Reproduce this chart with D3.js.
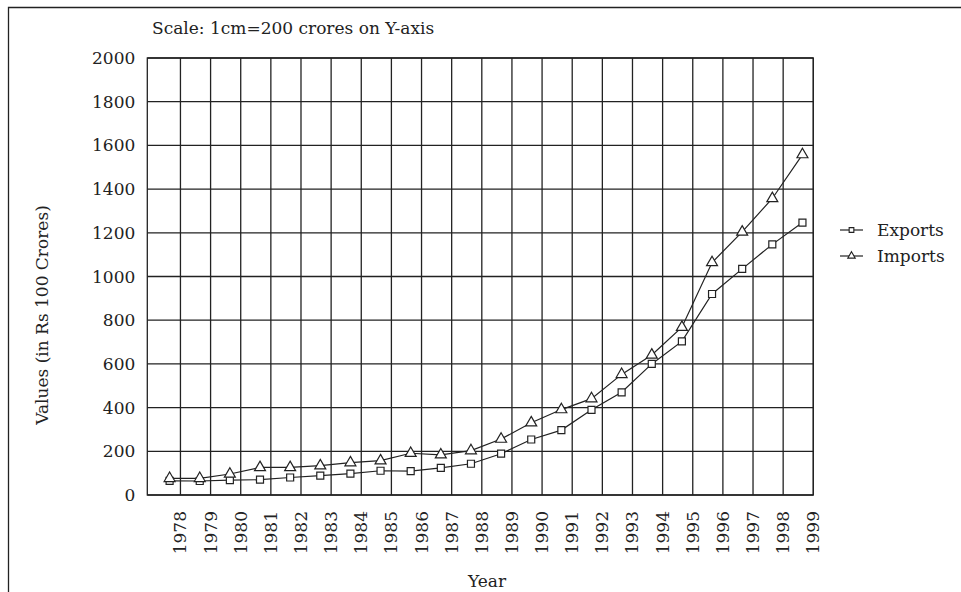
<!DOCTYPE html>
<html>
<head>
<meta charset="utf-8">
<script src="https://cdn.jsdelivr.net/npm/d3@7"></script>
<style>
  body { margin: 0; background: #fff; }
  text { font-family: 'DejaVu Serif', serif; fill: #222; }
</style>
</head>
<body>
<svg id="chart" width="961" height="592"></svg>
<script>
const YEARS = [1978, 1979, 1980, 1981, 1982, 1983, 1984, 1985, 1986, 1987, 1988,
  1989, 1990, 1991, 1992, 1993, 1994, 1995, 1996, 1997, 1998, 1999];
const EXPORTS = [65, 64, 68, 70, 80, 89, 98, 111, 109, 124, 143,
  189, 254, 297, 390, 470, 600, 703, 920, 1035, 1147, 1247];
const IMPORTS = [76, 76, 96, 126, 126, 134, 148, 157, 191, 184, 203,
  256, 331, 391, 441, 552, 641, 768, 1064, 1204, 1357, 1558];
const Y_TICKS = [0, 200, 400, 600, 800, 1000, 1200, 1400, 1600, 1800, 2000];
const SERIES = [
  { name: "Exports", values: EXPORTS, shape: d3.symbolSquare, size: 49, legendSize: 22 },
  { name: "Imports", values: IMPORTS, shape: d3.symbolTriangle, size: 52, legendSize: 24 }
];

const SVG = d3.select("#chart");
const INK = "#222";

// points sit a bit left of each year's grid line
const POINT_SHIFT = -0.36;

const SCALE_X = d3.scaleLinear()
  .domain([1976.9, 1999])
  .range([147.3, 813.3]);

const SCALE_Y = d3.scaleLinear()
  .domain([0, 2000])
  .range([495, 58]);

const LEFT = SCALE_X(1976.9);
const RIGHT = SCALE_X(1999);
const TOP = SCALE_Y(2000);
const BOTTOM = SCALE_Y(0);

// outer border
SVG.append("path")
  .attr("d", "M8.5,600 V7.5 H980")
  .attr("fill", "none")
  .attr("stroke", INK)
  .attr("stroke-width", 1.3);

// grid
SVG.selectAll("line.hgrid")
  .data(Y_TICKS)
  .enter()
  .append("line")
  .attr("class", "hgrid")
  .attr("x1", LEFT)
  .attr("x2", RIGHT)
  .attr("y1", d => SCALE_Y(d))
  .attr("y2", d => SCALE_Y(d))
  .attr("stroke", INK)
  .attr("stroke-width", 1.3);

SVG.selectAll("line.vgrid")
  .data(YEARS)
  .enter()
  .append("line")
  .attr("class", "vgrid")
  .attr("x1", d => SCALE_X(d))
  .attr("x2", d => SCALE_X(d))
  .attr("y1", TOP)
  .attr("y2", BOTTOM)
  .attr("stroke", INK)
  .attr("stroke-width", 1.3);

SVG.append("rect")
  .attr("x", LEFT)
  .attr("y", TOP)
  .attr("width", RIGHT - LEFT)
  .attr("height", BOTTOM - TOP)
  .attr("fill", "none")
  .attr("stroke", INK)
  .attr("stroke-width", 1.3);

// series
const LINE = d3.line()
  .x((d, i) => SCALE_X(YEARS[i] + POINT_SHIFT))
  .y(d => SCALE_Y(d));

SERIES.forEach(s => {
  SVG.append("path")
    .datum(s.values)
    .attr("d", LINE)
    .attr("fill", "none")
    .attr("stroke", INK)
    .attr("stroke-width", 1.2);

  SVG.selectAll("path.pt-" + s.name)
    .data(s.values)
    .enter()
    .append("path")
    .attr("class", "pt-" + s.name)
    .attr("d", d3.symbol().type(s.shape).size(s.size))
    .attr("transform", (d, i) => `translate(${SCALE_X(YEARS[i] + POINT_SHIFT)},${SCALE_Y(d)})`)
    .attr("fill", "#fff")
    .attr("stroke", INK)
    .attr("stroke-width", 1.2);
});

// y tick labels
SVG.selectAll("text.ytick")
  .data(Y_TICKS)
  .enter()
  .append("text")
  .attr("class", "ytick")
  .attr("x", LEFT - 12)
  .attr("y", d => SCALE_Y(d))
  .attr("text-anchor", "end")
  .attr("dominant-baseline", "central")
  .style("font-size", "17px")
  .text(d => d);

// year labels
SVG.selectAll("text.xtick")
  .data(YEARS)
  .enter()
  .append("text")
  .attr("class", "xtick")
  .attr("transform", d => `translate(${SCALE_X(d)},${BOTTOM + 16}) rotate(-90)`)
  .attr("text-anchor", "end")
  .attr("dominant-baseline", "central")
  .style("font-size", "17px")
  .text(d => d);

// titles
SVG.append("text")
  .attr("x", 152)
  .attr("y", 34)
  .style("font-size", "17px")
  .text("Scale: 1cm=200 crores on Y-axis");

SVG.append("text")
  .attr("x", 487)
  .attr("y", 587)
  .attr("text-anchor", "middle")
  .style("font-size", "17px")
  .text("Year");

SVG.append("text")
  .attr("transform", "translate(42,315) rotate(-90)")
  .attr("text-anchor", "middle")
  .attr("dominant-baseline", "central")
  .style("font-size", "17px")
  .text("Values (in Rs 100 Crores)");

// legend
const LEGEND = SVG.append("g").attr("transform", "translate(840,230)");
SERIES.forEach((s, i) => {
  const row = LEGEND.append("g").attr("transform", `translate(0,${i * 26})`);
  row.append("line")
    .attr("x1", 0)
    .attr("x2", 23)
    .attr("stroke", INK)
    .attr("stroke-width", 1.2);
  row.append("path")
    .attr("d", d3.symbol().type(s.shape).size(s.legendSize))
    .attr("transform", "translate(11.5,0)")
    .attr("fill", "#fff")
    .attr("stroke", INK)
    .attr("stroke-width", 1.1);
  row.append("text")
    .attr("x", 37)
    .attr("dominant-baseline", "central")
    .style("font-size", "17px")
    .text(s.name);
});
</script>
</body>
</html>
